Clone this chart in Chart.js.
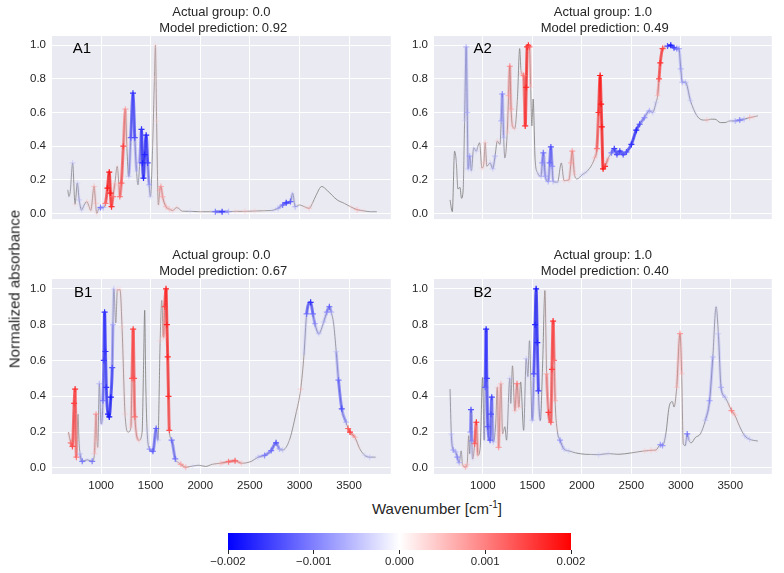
<!DOCTYPE html>
<html><head><meta charset="utf-8">
<script src="https://cdn.jsdelivr.net/npm/chart.js@4.4.0/dist/chart.umd.min.js"></script>
<style>
body{margin:0;background:#fff;width:784px;height:573px;position:relative;overflow:hidden;font-family:"Liberation Sans",Arial,sans-serif;}
canvas{position:absolute;}
.lbl{position:absolute;color:#262626;font-size:15px;white-space:nowrap;line-height:17px;}
</style></head><body>
<canvas id="cA1" width="384" height="232" style="left:12px;top:0px"></canvas>
<canvas id="cA2" width="383" height="232" style="left:394px;top:0px"></canvas>
<canvas id="cB1" width="384" height="251" style="left:12px;top:243px"></canvas>
<canvas id="cB2" width="383" height="251" style="left:394px;top:243px"></canvas>
<canvas id="cBar" width="423" height="38" style="left:188px;top:533px"></canvas>
<div class="lbl" style="left:14px;top:289px;transform:translate(-50%,-50%) rotate(-90deg);">Normalized absorbance</div>
<div class="lbl" style="left:437px;top:508px;transform:translate(-50%,-50%);">Wavenumber [cm<sup style="font-size:10px;vertical-align:6px;line-height:0">-1</sup>]</div>
<script>
// ---------------- data ----------------
const xTickValues = [1000, 1500, 2000, 2500, 3000, 3500];
const yTickValues = [0, 0.2, 0.4, 0.6, 0.8, 1.0];
const cbTickValues = [-0.002, -0.001, 0, 0.001, 0.002];
const cbTickLabels = ['\u22120.002', '\u22120.001', '0.000', '0.001', '0.002'];
const panelNames = ['A1', 'A2', 'B1', 'B2'];
const actualGroups = ['0.0', '1.0', '0.0', '1.0'];
const predictions = ['0.92', '0.49', '0.67', '0.40'];

const a1Wave = [665,676,690,714,738,761,780,804,830,857,880,897,930,945,957,975,995,1023,1045,1065,1083,1095,1106,1120,1140,1163,1180,1189,1205,1225,1246,1260,1279,1300,1322,1340,1358,1372,1390,1408,1418,1428,1440,1455,1470,1485,1498,1520,1538,1548,1560,1578,1592,1604,1620,1654,1690,1720,1764,1820,1900,2000,2100,2152,2220,2285,2350,2450,2550,2650,2716,2783,2830,2866,2909,2932,2956,2999,3048,3098,3130,3165,3224,3281,3380,3450,3513,3580,3650,3712,3779];
const a1Abs = [0.14,0.10,0.13,0.30,0.054,0.18,0.08,0.02,0.05,0.07,0.04,0.017,0.16,0.06,0.0,0.025,0.035,0.035,0.06,0.15,0.245,0.12,0.04,0.10,0.18,0.28,0.17,0.10,0.18,0.40,0.62,0.40,0.22,0.45,0.715,0.45,0.25,0.17,0.30,0.50,0.30,0.21,0.35,0.465,0.30,0.17,0.10,0.40,0.80,1.0,0.55,0.05,0.14,0.16,0.10,0.04,0.025,0.017,0.035,0.013,0.012,0.01,0.01,0.01,0.01,0.01,0.012,0.012,0.014,0.016,0.017,0.03,0.05,0.063,0.07,0.12,0.04,0.05,0.04,0.03,0.06,0.105,0.16,0.135,0.08,0.06,0.04,0.022,0.015,0.01,0.01];
const a1Attr = [0,-0.0003,0,-0.0006,0.0004,-0.0005,-0.0006,-0.0005,-0.0004,0.0005,0.0004,0.0003,0.0007,0.0006,0.0004,-0.0005,-0.0012,-0.0008,0.0012,0.0018,0.0018,0.0018,0.0016,0.0012,0.0005,0.0002,0.0006,0.0012,0.0013,0.0015,0.0009,0.0004,-0.0006,-0.0013,-0.0016,-0.0014,-0.0005,0.0001,-0.0008,-0.0016,-0.0017,-0.0017,-0.0017,-0.0017,-0.0015,-0.0008,-0.0005,0.0002,0.0003,0.0004,0.0004,0.0002,0.0008,0.0009,0.0008,0.0007,0.0006,0.0005,0.0004,0.0002,-0.0004,0.0003,0.0001,-0.0012,-0.0015,-0.0008,0.0004,0.0005,0.0004,0.0002,-0.0003,-0.0007,-0.0012,-0.0015,-0.0013,-0.0003,-0.0008,0.0001,0.0003,0.0006,0.0002,0,0,0,0,0.0001,0.0003,0.0007,0.0003,-0.0002,-0.0002];

const a2Wave = [668,691,714,731,748,768,784,801,815,831,842,851,867,884,907,934,950,967,990,1010,1023,1040,1073,1100,1123,1146,1173,1185,1196,1210,1222,1246,1260,1272,1285,1299,1322,1349,1372,1385,1395,1412,1428,1438,1448,1460,1471,1483,1495,1508,1528,1554,1588,1600,1611,1631,1661,1675,1687,1700,1710,1754,1793,1820,1870,1890,1903,1926,1953,2003,2052,2102,2130,2152,2169,2185,2195,2202,2215,2235,2268,2300,2328,2355,2384,2418,2451,2501,2550,2584,2633,2683,2716,2750,2766,2780,2793,2816,2840,2866,2899,2932,2960,2982,3000,3015,3048,3098,3164,3230,3264,3300,3347,3400,3447,3497,3550,3596,3640,3696,3740,3779];
const a2Abs = [0.08,0.01,0.37,0.31,0.145,0.155,0.09,0.145,0.55,0.99,0.60,0.265,0.34,0.255,0.39,0.37,0.40,0.42,0.27,0.30,0.42,0.28,0.30,0.265,0.34,0.43,0.41,0.55,0.71,0.45,0.33,0.48,0.70,0.875,0.62,0.52,0.505,0.68,0.98,0.85,0.83,0.82,0.52,0.75,0.99,1.0,0.99,0.75,0.52,0.68,0.32,0.24,0.22,0.30,0.36,0.22,0.19,0.30,0.395,0.28,0.19,0.185,0.30,0.195,0.20,0.30,0.37,0.23,0.205,0.23,0.25,0.29,0.33,0.385,0.60,0.82,0.65,0.515,0.265,0.28,0.33,0.36,0.385,0.35,0.37,0.35,0.365,0.41,0.495,0.53,0.57,0.61,0.60,0.66,0.70,0.80,0.895,0.98,0.99,0.995,1.0,0.985,0.98,0.98,0.86,0.78,0.78,0.67,0.58,0.555,0.555,0.56,0.56,0.54,0.54,0.55,0.55,0.555,0.56,0.57,0.575,0.58];
const a2Attr = [0,0,0,-0.0003,0,0,0,0,-0.0004,-0.0008,-0.0008,-0.0006,-0.0009,-0.0004,-0.0004,-0.0005,-0.0002,0,0.0005,0.0005,0.0006,0.0002,-0.0005,-0.0006,-0.0007,0.0005,0.0001,-0.0008,-0.0011,-0.0006,0,0.0005,0.0008,0.0011,0.0008,0.0006,0.0005,0.0001,0,0.0002,0.0007,0.0011,0.0016,0.0017,0.0017,0.0016,0.0013,0.0004,0,0,0,-0.0004,-0.0006,-0.0010,-0.0012,-0.0008,-0.0008,-0.0012,-0.0014,-0.0010,-0.0007,-0.0004,0,0.0005,0.0006,0.0008,0.0010,0.0005,0,-0.0005,-0.0004,0.0001,0.0006,0.0012,0.0016,0.0018,0.0018,0.0018,0.0018,0.0016,0.0004,-0.0012,-0.0015,-0.0014,-0.0015,-0.0014,-0.0014,-0.0016,-0.0017,-0.0014,-0.0010,-0.0008,-0.0006,-0.0005,0.0006,0.0014,0.0016,0.0015,0.0005,-0.0014,-0.0018,-0.0015,-0.0012,-0.0009,-0.0008,-0.0008,-0.0007,-0.0006,-0.0002,0,0.0006,0.0001,0,0,0,-0.0003,-0.0008,-0.0011,-0.0007,0.0007,0.0004,0];

const b1Wave = [672,695,712,729,739,752,768,778,788,811,861,911,934,950,960,967,983,1000,1020,1028,1036,1045,1053,1070,1083,1099,1113,1120,1129,1149,1165,1192,1212,1242,1275,1301,1312,1324,1333,1341,1384,1414,1428,1440,1450,1463,1490,1523,1556,1573,1596,1612,1629,1642,1655,1664,1672,1680,1688,1712,1748,1780,1804,1854,1920,1986,2053,2119,2202,2285,2351,2417,2516,2582,2648,2715,2764,2797,2830,2897,2963,3012,3045,3072,3112,3135,3155,3195,3244,3275,3301,3320,3344,3370,3393,3426,3469,3490,3509,3559,3608,3658,3708,3767];
const b1Abs = [0.20,0.14,0.12,0.36,0.44,0.06,0.30,0.15,0.08,0.037,0.045,0.037,0.08,0.30,0.15,0.115,0.47,0.245,0.375,0.60,0.87,0.65,0.45,0.30,0.285,0.395,0.56,0.80,1.0,0.81,0.995,0.995,0.785,0.30,0.20,0.225,0.50,0.775,0.50,0.285,0.155,0.20,0.55,0.88,0.50,0.225,0.105,0.093,0.22,0.155,0.71,0.935,0.73,0.90,1.0,0.80,0.62,0.40,0.21,0.155,0.05,0.03,0.02,0.004,0.01,0.015,0.008,0.02,0.026,0.035,0.04,0.026,0.037,0.06,0.07,0.097,0.14,0.106,0.10,0.153,0.30,0.44,0.63,0.86,0.925,0.86,0.805,0.75,0.815,0.87,0.90,0.87,0.805,0.65,0.49,0.33,0.255,0.22,0.20,0.17,0.106,0.07,0.06,0.06];
const b1Attr = [0,0.0012,0.0014,0.0015,0.0016,0.0012,-0.0002,0,-0.0006,-0.0012,0,-0.0012,0.0006,0.0010,0.0004,0.0004,-0.0008,-0.0003,-0.0012,-0.0015,-0.0016,-0.0016,-0.0016,-0.0017,-0.0018,-0.0018,-0.0014,-0.0008,-0.0006,0,0.0005,0.0005,0.0004,0.0005,0,0.0004,0.0013,0.0015,0.0014,0.0012,0.0005,0,0,0,0,0,-0.0010,-0.0013,-0.0013,-0.0006,0.0005,0,0.0006,0.0015,0.0017,0.0017,0.0017,0.0016,0.0014,-0.0012,-0.0012,0.0004,0.0009,0.0008,-0.0004,-0.0002,0,0.0002,0.0006,0.0012,0.0013,0.0006,0,-0.0006,-0.0011,-0.0012,-0.0014,-0.0008,-0.0006,0.0002,0,0.0006,0,-0.0012,-0.0016,-0.0012,-0.0010,-0.0006,-0.0006,-0.0010,-0.0013,-0.0008,0,-0.0006,-0.0012,-0.0014,-0.0008,0.0013,0.0015,0.0007,0.0002,-0.0005,-0.0006,-0.0002];

const b2Wave = [668,681,701,724,741,761,781,794,824,841,857,867,874,880,888,897,917,934,950,973,997,1013,1023,1033,1040,1050,1073,1082,1090,1106,1129,1146,1159,1183,1199,1222,1239,1272,1282,1299,1322,1345,1365,1382,1412,1438,1455,1471,1498,1515,1528,1538,1550,1561,1581,1604,1627,1644,1664,1687,1698,1710,1720,1730,1754,1780,1820,1870,1936,2036,2100,2169,2268,2368,2501,2633,2700,2750,2793,2816,2849,2882,2915,2932,2959,2992,3009,3025,3045,3065,3082,3105,3148,3198,3248,3291,3324,3357,3380,3407,3447,3480,3513,3546,3596,3646,3696,3779];
const b2Abs = [0.44,0.19,0.10,0.09,0.06,0.03,0.095,0.02,0.005,0.02,0.18,0.08,0.20,0.325,0.15,0.05,0.135,0.255,0.07,0.115,0.505,0.155,0.45,0.775,0.50,0.23,0.155,0.30,0.395,0.145,0.24,0.45,0.115,0.47,0.19,0.23,0.155,0.50,0.36,0.57,0.32,0.47,0.34,0.48,0.21,0.61,0.51,0.71,0.265,0.525,0.80,1.0,0.70,0.43,0.265,0.58,0.99,0.525,0.31,0.255,0.55,0.82,0.60,0.375,0.20,0.155,0.105,0.095,0.084,0.076,0.075,0.074,0.08,0.076,0.084,0.095,0.098,0.10,0.13,0.125,0.19,0.34,0.37,0.34,0.45,0.75,0.525,0.135,0.125,0.19,0.155,0.14,0.17,0.19,0.265,0.375,0.62,0.90,0.75,0.45,0.395,0.36,0.32,0.295,0.23,0.18,0.16,0.15];
const b2Attr = [0,-0.0006,-0.0009,-0.0007,-0.0010,-0.0008,0,0.0004,0.0008,0.0006,0,0,-0.0010,-0.0014,-0.0010,-0.0003,0.0013,0.0016,0.0004,0,0,0,-0.0013,-0.0017,-0.0015,-0.0014,-0.0013,-0.0014,-0.0015,-0.0006,0,0.0005,0.0010,0.0007,0.0003,0,0,-0.0006,-0.0002,0,0.0006,0.0012,0.0006,0,0,-0.0006,-0.0004,0,-0.0006,-0.0014,-0.0017,-0.0018,-0.0017,-0.0015,0,0,0,0.0008,0.0015,0.0013,0.0015,0.0016,0.0012,0.0008,0,-0.0010,-0.0006,-0.0005,0,0,-0.0002,-0.0005,-0.0004,0,0,0.0005,0.0006,0.0005,-0.0010,-0.0010,0,0,0,0,0.0006,0.0010,0.0006,0,0,-0.0012,-0.0004,0,0,0,-0.0006,-0.0010,-0.0007,-0.0002,-0.0006,-0.0008,-0.0007,0,0.0011,0.0006,0,-0.0006,-0.0006,0];

// ---------------- helpers ----------------
Chart.defaults.font.family = '"Liberation Sans", Arial, sans-serif';
Chart.defaults.color = '#262626';
const ATTR_MAX = 0.002;
function bwr(v, alpha) {
  let t = (v + ATTR_MAX) / (2 * ATTR_MAX);
  t = Math.max(0, Math.min(1, t));
  let r, g, b;
  if (t < 0.5) { r = g = Math.round(510 * t); b = 255; }
  else { r = 255; g = b = Math.round(510 * (1 - t)); }
  return `rgba(${r},${g},${b},${alpha})`;
}
function alphaFor(v) { return Math.min(1, Math.abs(v) / 0.0015); }

const bgPlugin = {
  id: 'bg',
  beforeDraw(chart) {
    const a = chart.chartArea, ctx = chart.ctx;
    ctx.save(); ctx.fillStyle = '#EAEAF2';
    ctx.fillRect(a.left, a.top, a.right - a.left, a.bottom - a.top);
    ctx.restore();
  }
};
const panelLabelPlugin = {
  id: 'panelLabel',
  afterDatasetsDraw(chart, args, opts) {
    const ctx = chart.ctx;
    ctx.save();
    ctx.font = '15px "Liberation Sans", Arial, sans-serif';
    ctx.fillStyle = '#000';
    ctx.textAlign = 'left'; ctx.textBaseline = 'middle';
    ctx.fillText(opts.text, chart.scales.x.getPixelForValue(opts.x), chart.scales.y.getPixelForValue(opts.y));
    ctx.restore();
  }
};

function makePanel(id, idx, wave, abs, attr, bottomRow, labelX) {
  const pts = wave.map((w, i) => ({ x: w, y: abs[i] }));
  new Chart(document.getElementById(id), {
    type: 'scatter',
    data: {
      datasets: [
        { data: pts, showLine: true, cubicInterpolationMode: 'monotone', borderColor: 'rgba(128,128,128,0.85)', borderWidth: 1, pointRadius: 0, order: 2 },
        {
          data: pts, showLine: true, cubicInterpolationMode: 'monotone', borderWidth: 3,
          segment: {
            borderColor: c => {
              const v = (attr[c.p0DataIndex] + attr[c.p1DataIndex]) / 2;
              return bwr(v, alphaFor(v) * 0.75);
            }
          },
          pointStyle: 'cross', pointRadius: 3, pointBorderWidth: 1.2,
          pointBorderColor: attr.map(v => bwr(v, alphaFor(v))),
          pointBackgroundColor: 'rgba(0,0,0,0)',
          order: 1
        }
      ]
    },
    options: {
      responsive: false, animation: false, devicePixelRatio: 1,
      layout: { padding: 0 },
      plugins: {
        legend: { display: false }, tooltip: { enabled: false },
        title: {
          display: true, fullSize: false,
          text: ['Actual group: ' + actualGroups[idx], ' Model prediction: ' + predictions[idx]],
          font: { size: 13, weight: 'normal', lineHeight: 1.2308 },
          color: '#262626', padding: { top: 4, bottom: 0 }
        },
        panelLabel: { text: panelNames[idx], x: labelX, y: 0.98 }
      },
      scales: {
        x: {
          type: 'linear', min: 506, max: 3920,
          afterBuildTicks: s => { s.ticks = xTickValues.map(v => ({ value: v })); },
          ticks: { display: bottomRow, padding: 5, font: { size: 11.5 }, color: '#262626', callback: v => String(v) },
          grid: { color: '#ffffff', lineWidth: 1, drawTicks: false },
          border: { display: false },
          afterFit: s => { s.height = bottomRow ? 20 : 0; }
        },
        y: {
          type: 'linear', min: -0.034, max: 1.055,
          afterBuildTicks: s => { s.ticks = yTickValues.map(v => ({ value: v })); },
          ticks: { padding: 6, font: { size: 11.5 }, color: '#262626', callback: v => Number(v).toFixed(1) },
          grid: { color: '#ffffff', lineWidth: 1, drawTicks: false },
          border: { display: false },
          afterFit: s => { s.width = 40; }
        }
      }
    },
    plugins: [bgPlugin, panelLabelPlugin]
  });
}

makePanel('cA1', 0, a1Wave, a1Abs, a1Attr, false, 715);
makePanel('cA2', 1, a2Wave, a2Abs, a2Attr, false, 904);
makePanel('cB1', 2, b1Wave, b1Abs, b1Attr, true, 728);
makePanel('cB2', 3, b2Wave, b2Abs, b2Attr, true, 904);

// colorbar
const cbPlugin = {
  id: 'cb',
  beforeDraw(chart) {
    const a = chart.chartArea, ctx = chart.ctx, xs = chart.scales.x;
    const g = ctx.createLinearGradient(a.left, 0, a.right, 0);
    const stops = [-0.002, -0.001, 0, 0.001, 0.002];
    stops.forEach(v => g.addColorStop((xs.getPixelForValue(v) - a.left) / (a.right - a.left), bwr(v, 1)));
    ctx.save(); ctx.fillStyle = g;
    ctx.fillRect(a.left, a.top, a.right - a.left, a.bottom - a.top);
    ctx.restore();
  }
};
new Chart(document.getElementById('cBar'), {
  type: 'scatter',
  data: { datasets: [{ data: [] }] },
  options: {
    responsive: false, animation: false, devicePixelRatio: 1,
    layout: { padding: { left: 40, right: 40, top: 0, bottom: 0 } },
    plugins: { legend: { display: false }, tooltip: { enabled: false } },
    scales: {
      x: {
        type: 'linear', min: -0.002, max: 0.002,
        afterBuildTicks: s => { s.ticks = cbTickValues.map(v => ({ value: v })); },
        ticks: { padding: 1, font: { size: 11.5 }, color: '#262626', callback: (v, i) => cbTickLabels[i] },
        grid: { drawOnChartArea: false, drawTicks: true, tickLength: 4, tickColor: '#262626', tickWidth: 1 },
        border: { display: false },
        afterFit: s => { s.height = 21; }
      },
      y: { display: false, min: 0, max: 1 }
    }
  },
  plugins: [cbPlugin]
});
</script>
</body></html>
